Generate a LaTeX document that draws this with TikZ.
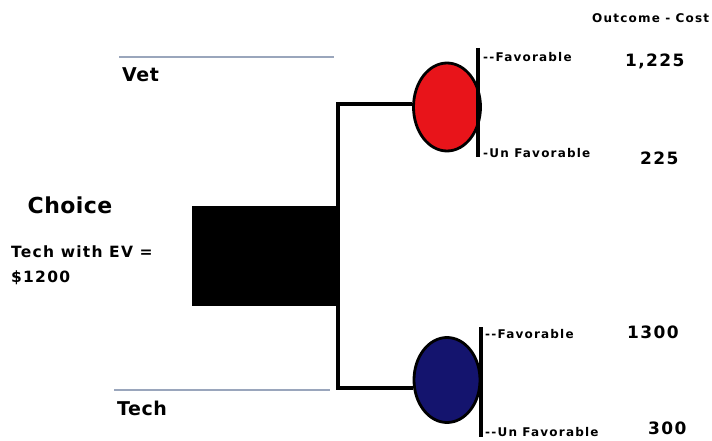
\documentclass[tikz,border=0pt]{standalone}
\usepackage{fontspec}
\setmainfont{DejaVu Sans}[Ligatures=NoCommon]
\usetikzlibrary{shapes.geometric}
\definecolor{rulegray}{HTML}{9AA6BC}
\definecolor{nodered}{HTML}{E8141A}
\definecolor{nodeblue}{HTML}{14146E}
\newcommand{\spc}[1]{\addfontfeature{LetterSpace=#1}}
\tikzset{
  conn/.style={line width=3.2pt, black},
  bar/.style={line width=3.4pt, black},
  rulel/.style={line width=1.4pt, rulegray},
  chance/.style={ellipse, draw=black, line width=2.8pt, inner sep=0pt},
  lbl/.style={anchor=west, inner sep=0pt, font=\bfseries\fontsize{12}{14}\selectfont\spc{10}},
  val/.style={anchor=west, inner sep=0pt, font=\bfseries\fontsize{17}{20}\selectfont\spc{8}},
  opt/.style={anchor=west, inner sep=0pt, font=\bfseries\fontsize{19}{22}\selectfont\spc{3}},
}
\begin{document}
\begin{tikzpicture}[x=1pt,y=-1pt]
\useasboundingbox (0,0) rectangle (712,441);
% options
\coordinate (vl1) at (119,57); \coordinate (vl2) at (334,57);
\coordinate (tl1) at (114,390); \coordinate (tl2) at (330,390);
\draw[rulel] (vl1) -- (vl2);
\draw[rulel] (tl1) -- (tl2);
\node[opt] (vet) at (122,75) {Vet};
\node[opt] (tech) at (117,408) {Tech};
% choice
\node[anchor=center, inner sep=0pt, font=\bfseries\fontsize{22}{25}\selectfont\spc{2}] (choice) at (70,205) {Choice};
\node[anchor=west, inner sep=0pt, font=\bfseries\fontsize{15.5}{18}\selectfont\spc{8}] (ev1) at (11,252) {Tech with EV =};
\node[anchor=west, inner sep=0pt, font=\bfseries\fontsize{15.5}{18}\selectfont\spc{8}] (ev2) at (11,278) {\$1200};
% decision box
\node[fill=black, minimum width=145pt, minimum height=100pt, inner sep=0pt] (box) at (264.5,256) {};
% chance nodes
\node[chance, fill=nodered, minimum width=67pt, minimum height=88pt] (red) at (447,107) {};
\node[chance, fill=nodeblue, minimum width=66pt, minimum height=85pt] (blue) at (447,380) {};
% connectors
\coordinate (jt) at (338,104);
\coordinate (jb) at (338,388);
\draw[conn] (jt -| red.west) -- (jt) -- (jb) -- (jb -| blue.west);
% bars
\coordinate (rb1) at (478,48); \coordinate (rb2) at (478,157);
\coordinate (bb1) at (481,327); \coordinate (bb2) at (481,437);
\draw[bar] (rb1) -- (rb2);
\draw[bar] (bb1) -- (bb2);
% branch labels
\node[lbl] (f1) at (483,57) {{-}{-}Favorable};
\node[lbl] (u1) at (483,153) {{-}Un Favorable};
\node[lbl] (f2) at (485,334) {{-}{-}Favorable};
\node[lbl] (u2) at (485,432) {{-}{-}Un Favorable};
% values
\node[val] (v1) at (625,61) {1,225};
\node[val] (v2) at (640,158) {225};
\node[val] (v3) at (627,332) {1300};
\node[val] (v4) at (648,428) {300};
\node[anchor=west, inner sep=0pt, font=\bfseries\fontsize{12}{14}\selectfont\spc{10}] (oc) at (592,18) {Outcome - Cost};
\end{tikzpicture}
\end{document}
